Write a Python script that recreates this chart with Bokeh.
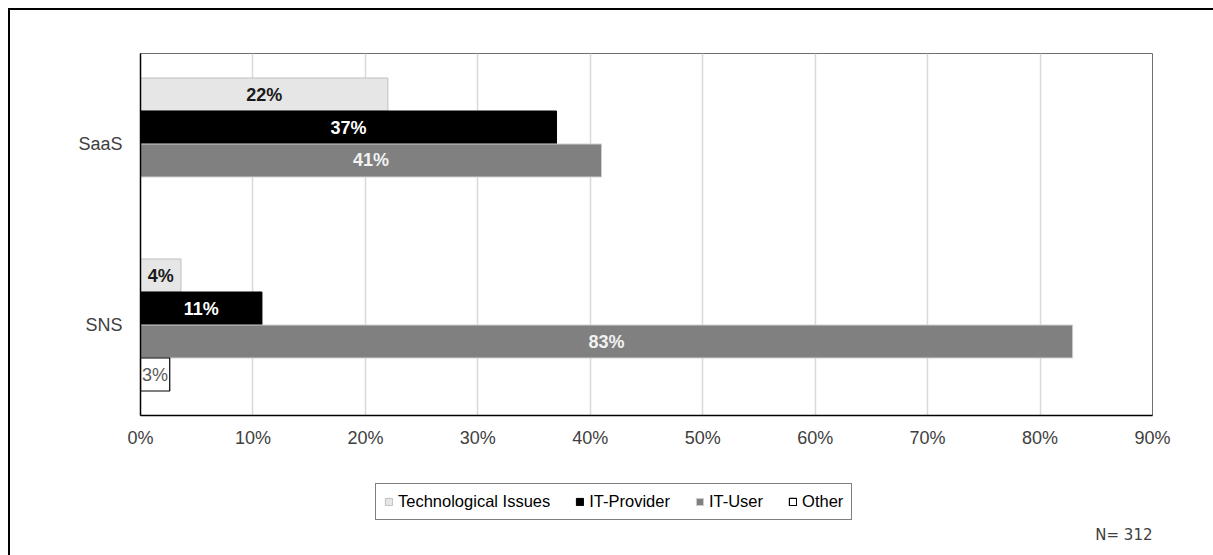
from bokeh.plotting import figure
from bokeh.layouts import column
from bokeh.models import (ColumnDataSource, FactorRange, Range1d, FixedTicker,
                          PrintfTickFormatter, Legend, LegendItem, Label)
from bokeh.transform import dodge
from bokeh.core.properties import value
from bokeh.embed import file_html
from bokeh.resources import INLINE

# ---- data (percent) ----
categories = ["SaaS", "SNS"]
series = ["Technological Issues", "IT-Provider", "IT-User", "Other"]
tech = [22.0, 3.6]
provider = [37.0, 10.8]
user = [41.0, 82.9]
other = [None, 2.6]
x_ticks = [0, 10, 20, 30, 40, 50, 60, 70, 80, 90]
note = "N= 312"

values = [tech, provider, user, other]
fills = ["#e6e6e6", "#000000", "#808080", "#ffffff"]
lines = ["#bfbfbf", "#000000", "#d0d0d0", "#000000"]
label_colors = ["#1a1a1a", "#ffffff", "#f2f2f2", "#595959"]
label_weights = ["bold", "bold", "bold", "normal"]

FONT = "Liberation Sans"
W = 1203

p = figure(width=W, height=450,
           y_range=FactorRange(factors=categories[::-1], range_padding=0),
           x_range=Range1d(0, 90),
           output_backend="svg", toolbar_location=None,
           min_border_left=130, min_border_right=61,
           min_border_top=43, min_border_bottom=45)

bar_h = 33 / 181
sources = []
for i, (name, vals) in enumerate(zip(series, values)):
    cats = [c for c, v in zip(categories, vals) if v is not None]
    vs = [v for v in vals if v is not None]
    src = ColumnDataSource(dict(
        cat=cats, val=vs,
        mid=[v / 2 for v in vs],
        label=[f"{round(v)}%" for v in vs],
    ))
    sources.append(src)
    off = (1.5 - i) * bar_h
    p.hbar(y=dodge("cat", off, range=p.y_range), left=0, right="val",
           height=bar_h, source=src, fill_color=fills[i],
           line_color=lines[i], line_width=1.2 if i == 3 else 1)
    p.text(x="mid", y=dodge("cat", off, range=p.y_range), text="label",
           source=src, text_align="center", text_baseline="middle",
           text_font=value(FONT), text_font_size="18px",
           text_font_style=label_weights[i], text_color=label_colors[i])

p.xaxis.ticker = FixedTicker(ticks=x_ticks)
p.xaxis.formatter = PrintfTickFormatter(format="%d%%")
for ax in (p.xaxis, p.yaxis):
    ax.major_tick_in = 0
    ax.major_tick_out = 0
    ax.minor_tick_in = 0
    ax.minor_tick_out = 0
    ax.axis_line_color = "#000000"
    ax.axis_line_width = 1.5
    ax.major_label_text_font = FONT
    ax.major_label_text_font_size = "18px"
    ax.major_label_text_color = "#404040"
p.xaxis.major_label_standoff = 12
p.yaxis.major_label_standoff = 18

p.xgrid.ticker = FixedTicker(ticks=x_ticks)
p.xgrid.grid_line_color = "#d9d9d9"
p.xgrid.grid_line_width = 1.5
p.ygrid.grid_line_color = None
p.outline_line_color = "#6f6f6f"
p.outline_line_width = 1

# ---- legend strip below the chart (hidden renderers supply the swatches) ----
q = figure(width=W, height=95,
           y_range=FactorRange(factors=categories[::-1]),
           x_range=Range1d(0, 90),
           output_backend="svg", toolbar_location=None, min_border=0)
q.axis.visible = False
q.grid.visible = False
q.outline_line_color = None

items = []
for i, name in enumerate(series):
    r = q.hbar(y="cat", left=0, right="val", height=0.5, source=sources[i],
               fill_color=fills[i], line_color=lines[i],
               line_width=1.2 if i == 3 else 1, visible=False)
    items.append(LegendItem(label=name, renderers=[r]))

legend = Legend(items=items, orientation="horizontal", location=(235, 35),
                border_line_color="#000000", border_line_width=1,
                padding=8, spacing=25, label_standoff=5,
                glyph_width=9, glyph_height=9, label_height=16,
                label_text_font=FONT, label_text_font_size="16.5px",
                label_text_color="#000000", margin=0,
                inactive_fill_alpha=0,
                background_fill_color="#ffffff", background_fill_alpha=1)
q.add_layout(legend, "center")

q.add_layout(Label(x=1012, y=21, x_units="screen", y_units="screen",
                   text=note, text_font="DejaVu Sans", text_font_size="15px",
                   text_color="#404040", text_baseline="middle",
                   text_align="right"))

layout = column(p, q, spacing=0,
                styles={"margin-left": "8px", "margin-top": "8px",
                        "border-top": "2px solid #000",
                        "border-left": "2px solid #000"})

open("out.html", "w").write(file_html(layout, INLINE))
